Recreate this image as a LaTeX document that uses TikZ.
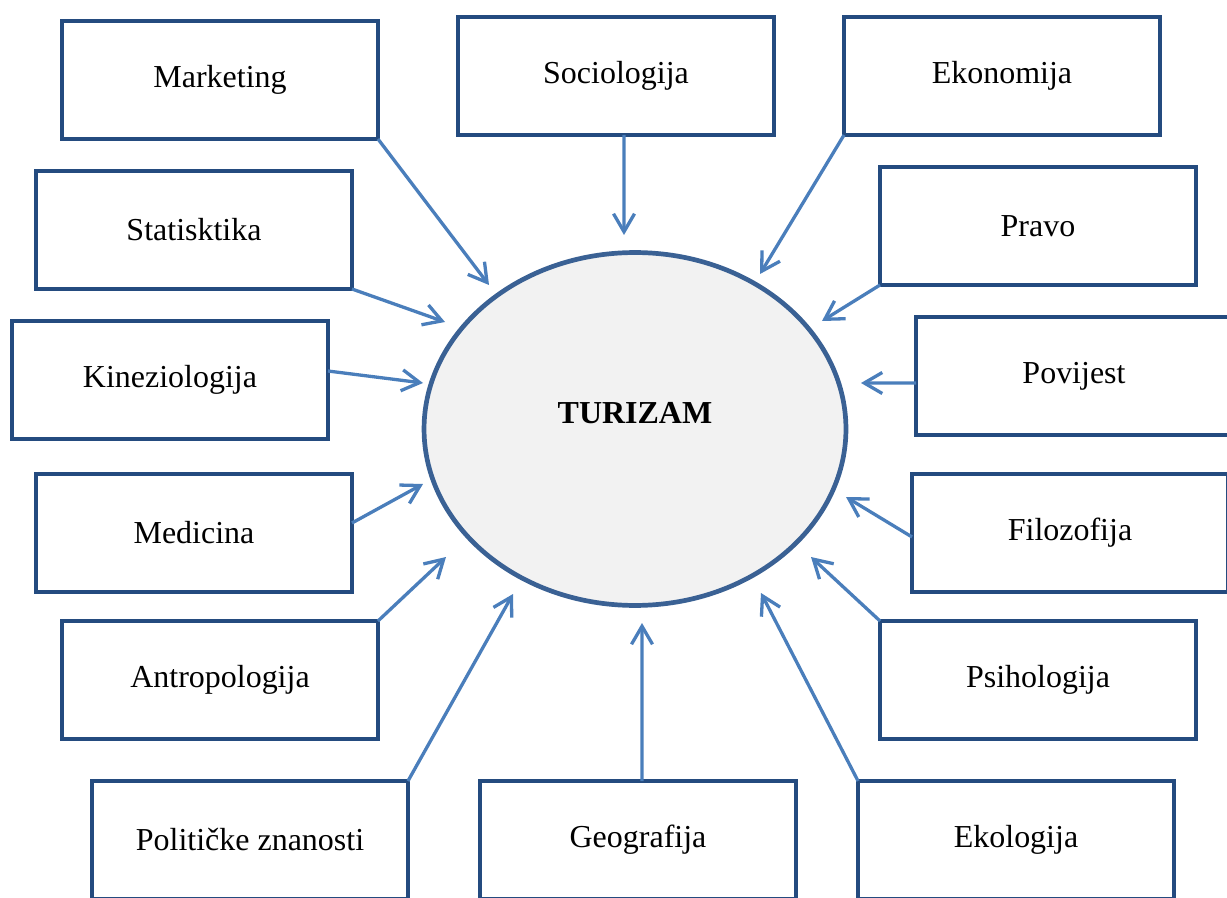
\documentclass[tikz,border=0pt]{standalone}
\usepackage{fontspec}
\setmainfont{Liberation Serif}
\usepackage{tikz}
\usetikzlibrary{shapes.geometric, arrows.meta}

\definecolor{cadreBleu}{HTML}{244B7F}
\definecolor{ovaleBleu}{HTML}{3A6194}
\definecolor{flecheBleu}{HTML}{4A7EBB}
\definecolor{ovaleFond}{HTML}{F2F2F2}

\begin{document}
\begin{tikzpicture}[
    x=0.02cm, y=-0.02cm,
    % Style pour les cases des disciplines
    boxnode/.style={rectangle, draw=cadreBleu, fill=white, line width=0.094cm, outer sep=0pt,
        minimum width=6.32cm, minimum height=2.36cm, inner sep=0pt, font=\fontsize{18.2}{22}\selectfont},
    % Style pour l'ovale central
    centernode/.style={ellipse, draw=ovaleBleu, fill=ovaleFond, line width=0.094cm,
        minimum width=8.44cm, minimum height=7.06cm, inner sep=0pt},
    % Style pour les flèches
    arrowline/.style={draw=flecheBleu, line width=0.066cm, -{Straight Barb[length=0.36cm, width=0.42cm]}}
]

% Cadre de la page
\useasboundingbox (0,0) rectangle (1227,898);
\clip (0,0) rectangle (1227,898);

% Ovale central
\node[centernode, label={[font=\fontsize{18.2}{22}\selectfont\bfseries, yshift=0.32cm]center:TURIZAM}] (tur) at (635,429) {};

% Disciplines, colonne gauche
\node[boxnode] (mark) at (220,80) {Marketing};
\node[boxnode] (stat) at (194,230) {Statisktika};
\node[boxnode] (kin) at (170,380) {Kineziologija};
\node[boxnode] (med) at (194,533) {Medicina};
\node[boxnode] (ant) at (220,680) {Antropologija};
\node[boxnode] (pol) at (250,840) {Političke znanosti};

% Disciplines, haut et bas
\node[boxnode] (soc) at (616,76) {Sociologija};
\node[boxnode] (geo) at (638,840) {Geografija};

% Disciplines, colonne droite
\node[boxnode] (eko) at (1002,76) {Ekonomija};
\node[boxnode] (prav) at (1038,226) {Pravo};
\node[boxnode] (pov) at (1074,376) {Povijest};
\node[boxnode] (fil) at (1070,533) {Filozofija};
\node[boxnode] (psi) at (1038,680) {Psihologija};
\node[boxnode] (ekol) at (1016,840) {Ekologija};

% Pointes des flèches autour de l'ovale
\coordinate (tMark) at (489,285);
\coordinate (tSoc) at (624,235);
\coordinate (tEko) at (760,274);
\coordinate (tStat) at (445,322);
\coordinate (tPrav) at (822,321);
\coordinate (tKin) at (423,383);
\coordinate (tPov) at (861,383);
\coordinate (tMed) at (423,484);
\coordinate (tFil) at (846,497);
\coordinate (tAnt) at (446,557);
\coordinate (tPsi) at (811,557);
\coordinate (tPol) at (513,594);
\coordinate (tGeo) at (642,623);
\coordinate (tEkol) at (761,593);

% Flèches vers l'ovale
\draw[arrowline] (mark.south east) -- (tMark);
\draw[arrowline] ([xshift=0.16cm]soc.south) -- (tSoc);
\draw[arrowline] (eko.south west) -- (tEko);
\draw[arrowline] (stat.south east) -- (tStat);
\draw[arrowline] (prav.south west) -- (tPrav);
\draw[arrowline] ([yshift=0.18cm]kin.east) -- (tKin);
\draw[arrowline] ([yshift=-0.14cm]pov.west) -- (tPov);
\draw[arrowline] ([yshift=0.2cm]med.east) -- (tMed);
\draw[arrowline] ([yshift=-0.08cm]fil.west) -- (tFil);
\draw[arrowline] (ant.north east) -- (tAnt);
\draw[arrowline] (psi.north west) -- (tPsi);
\draw[arrowline] (pol.north east) -- (tPol);
\draw[arrowline] ([xshift=0.08cm]geo.north) -- (tGeo);
\draw[arrowline] (ekol.north west) -- (tEkol);

\end{tikzpicture}
\end{document}
